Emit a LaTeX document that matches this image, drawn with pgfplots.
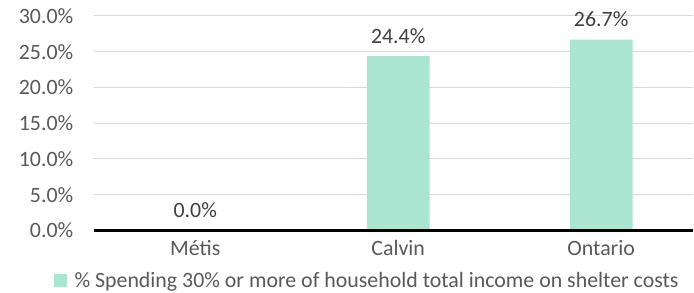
\documentclass[border=0pt]{standalone}
\usepackage{pgfplots}
\pgfplotsset{compat=1.18}
\usepackage{fontspec}
\setmainfont{Carlito}
\definecolor{barc}{RGB}{169,229,209}
\definecolor{tickc}{RGB}{89,89,89}
\definecolor{labc}{RGB}{64,64,64}
\definecolor{gridc}{RGB}{217,217,217}
\begin{document}
\begin{tikzpicture}
\begin{axis}[
  scale only axis,
  width=600bp, height=215bp,
  xmin=-0.5, xmax=2.45,
  ymin=0, ymax=30,
  xtick={0,1,2},
  xticklabels={Métis,Calvin,Ontario},
  ytick={0,5,10,15,20,25,30},
  yticklabel={\pgfmathprintnumber[fixed,fixed zerofill,precision=1]{\tick}\%},
  /pgf/number format/assume math mode=true,
  ymajorgrids,
  grid style={gridc, line width=1bp},
  major tick length=0pt,
  axis line style={draw=none},
  tick label style={font=\fontsize{22}{26}\selectfont, text=tickc},
  yticklabel style={xshift=-17bp},
  xticklabel style={yshift=-6bp},
  ybar, bar width=63bp,
  nodes near coords={\pgfmathprintnumber[fixed,fixed zerofill,precision=1]{\pgfplotspointmeta}\%},
  nodes near coords style={font=\fontsize{22}{26}\selectfont, text=labc, anchor=center, yshift=20bp},
  every node near coord/.append style={/pgf/number format/assume math mode=true},
  legend style={at={(rel axis cs:-0.0667,-0.233)}, anchor=west, draw=none, fill=none,
    font=\fontsize{22}{26}\selectfont, text=tickc, inner sep=0pt,
    /tikz/every even column/.append style={column sep=0pt}},
  legend image code/.code={\fill[barc] (0bp,-6.5bp) rectangle (12.5bp,6.5bp);},
  clip=false,
]
\addplot[fill=barc, draw=none] coordinates {(0,0) (1,24.4) (2,26.7)};
\addlegendentry{\hspace{6bp}\% Spending 30\% or more of household total income on shelter costs}
\draw[black, line width=3bp] (axis cs:-0.5,0) -- (axis cs:2.45,0);
\end{axis}
\useasboundingbox ([xshift=-94bp,yshift=-62bp]current axis.south west) rectangle ++(694bp,293bp);
\end{tikzpicture}
\end{document}
